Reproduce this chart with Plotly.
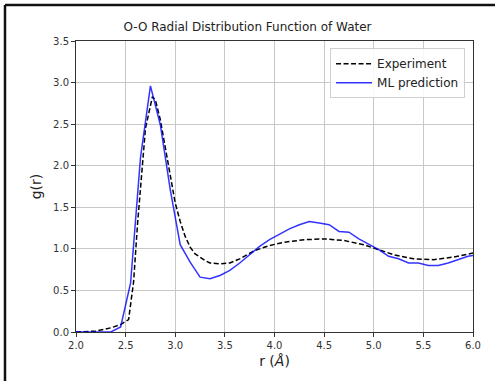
import plotly.graph_objects as go

# Experiment data
exp_r = [2.0, 2.2, 2.35, 2.45, 2.53, 2.58, 2.62, 2.66, 2.70, 2.77, 2.80, 2.85, 2.90, 2.95,
         3.0, 3.05, 3.10, 3.15, 3.20, 3.30, 3.35, 3.45, 3.55, 3.65, 3.80, 3.95, 4.10,
         4.30, 4.50, 4.70, 4.90, 5.0, 5.2, 5.4, 5.6, 5.8, 6.0]
exp_g = [0.0, 0.01, 0.05, 0.09, 0.15, 0.60, 1.30, 1.90, 2.45, 2.83, 2.79, 2.55, 2.20, 1.85,
         1.55, 1.33, 1.15, 1.02, 0.94, 0.86, 0.83, 0.82, 0.83, 0.88, 0.98, 1.04, 1.08,
         1.11, 1.12, 1.10, 1.05, 1.01, 0.93, 0.88, 0.87, 0.90, 0.95]

# ML prediction data
ml_r = [2.0, 2.35, 2.45, 2.55, 2.65, 2.75, 2.85, 2.95, 3.05, 3.15, 3.25, 3.35, 3.45, 3.55,
        3.65, 3.75, 3.85, 3.95, 4.05, 4.15, 4.25, 4.35, 4.45, 4.55, 4.65, 4.75, 4.85,
        4.95, 5.05, 5.15, 5.25, 5.35, 5.45, 5.55, 5.65, 5.75, 5.85, 5.95, 6.0]
ml_g = [0.0, 0.0, 0.06, 0.59, 2.10, 2.96, 2.49, 1.71, 1.05, 0.84, 0.66, 0.64, 0.68, 0.74,
        0.83, 0.93, 1.03, 1.11, 1.18, 1.24, 1.29, 1.33, 1.31, 1.29, 1.21, 1.20, 1.12,
        1.06, 0.99, 0.91, 0.88, 0.83, 0.83, 0.80, 0.80, 0.83, 0.87, 0.91, 0.92]

x_ticks = [2.0, 2.5, 3.0, 3.5, 4.0, 4.5, 5.0, 5.5, 6.0]
y_ticks = [0.0, 0.5, 1.0, 1.5, 2.0, 2.5, 3.0, 3.5]

FONT = "DejaVu Sans"

fig = go.Figure()
fig.add_trace(go.Scatter(x=exp_r, y=exp_g, mode="lines", name="Experiment",
                         line=dict(color="black", width=1.5, dash="5px,2.5px")))
fig.add_trace(go.Scatter(x=ml_r, y=ml_g, mode="lines", name="ML prediction",
                         line=dict(color="rgba(0,0,255,0.8)", width=1.5)))

axis_common = dict(showgrid=True, gridcolor="#c8c8c8", gridwidth=1.3,
                   showline=True, linecolor="#333333", linewidth=1, mirror=True,
                   ticks="outside", ticklen=4, tickcolor="#333333", zeroline=False,
                   tickfont=dict(family=FONT, size=10, color="#333333"))

fig.update_layout(
    width=495, height=381,
    margin=dict(l=76, r=22, t=41, b=49),
    paper_bgcolor="white", plot_bgcolor="white",
    title=dict(text="O-O Radial Distribution Function of Water", x=0.5, xanchor="center",
               y=1 - 27 / 381, yanchor="middle",
               font=dict(family=FONT, size=12, color="#222222")),
    xaxis=dict(range=[2.0, 6.0], tickvals=x_ticks, ticktext=[f"{v:.1f}" for v in x_ticks],
               title=dict(text="r (<i>Å</i>)", font=dict(family=FONT, size=14, color="#222222"),
                          standoff=6),
               **axis_common),
    yaxis=dict(range=[0.0, 3.5], tickvals=y_ticks, ticktext=[f"{v:.1f}" for v in y_ticks],
               title=dict(text="g(r)", font=dict(family=FONT, size=14, color="#222222"),
                          standoff=8),
               **axis_common),
    legend=dict(x=0.98, y=0.975, xanchor="right", yanchor="top",
                bgcolor="rgba(255,255,255,0.85)", bordercolor="#d0d0d0", borderwidth=1,
                font=dict(family=FONT, size=12, color="#222222"),
                tracegroupgap=0, itemwidth=36),
    showlegend=True,
)

# outer frame (left and top edges of the image border)
pw, ph = 495 - 76 - 22, 381 - 41 - 49
x_left = (5 - 76) / pw
y_top = 1 + (41 - 5) / ph
x_right = (495 - 76) / pw
y_bottom = (332 - 381) / ph
fig.add_shape(type="line", xref="paper", yref="paper", x0=x_left, x1=x_left,
              y0=y_bottom, y1=y_top, line=dict(color="#111111", width=2.5))
fig.add_shape(type="line", xref="paper", yref="paper", x0=x_left, x1=x_right,
              y0=y_top, y1=y_top, line=dict(color="#111111", width=2.5))

fig.write_html("out.html", config={"displayModeBar": False},
               post_script="document.body.style.margin='0';document.body.style.overflow='hidden';")
